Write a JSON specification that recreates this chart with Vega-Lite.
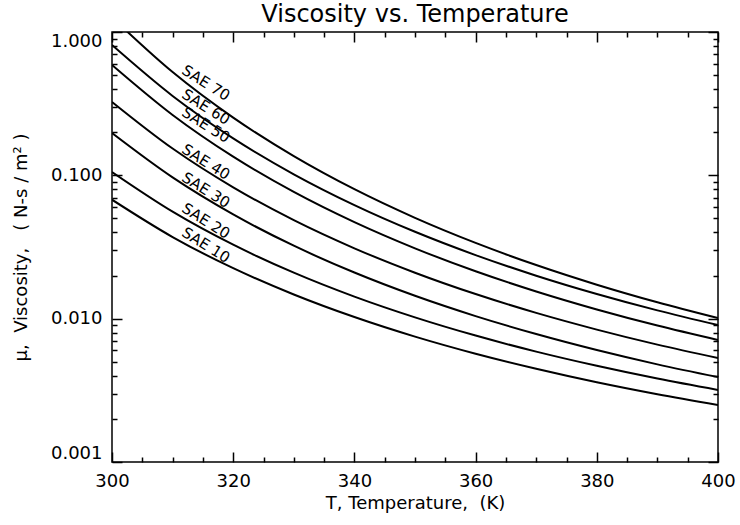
{
  "$schema": "https://vega.github.io/schema/vega-lite/v6.json",
  "autosize": {"type": "none"},
  "width": 606,
  "height": 430,
  "padding": {"left": 112, "top": 32, "right": 22, "bottom": 63},
  "background": "white",
  "title": {"text": "Viscosity vs. Temperature", "fontSize": 24, "fontWeight": "normal", "font": "DejaVu Sans", "anchor": "middle", "frame": "group", "offset": 7, "dy": 17, "color": "black"},
  "config": {
    "view": {"stroke": "black", "strokeWidth": 1.5},
    "font": "DejaVu Sans",
    "axis": {"grid": false, "domain": false, "labelColor": "black", "titleColor": "black", "tickColor": "black"}
  },
  "datasets": {
    "curves": [
      {"oil": "SAE 70", "T": 300, "mu": 1.2647},
      {"oil": "SAE 70", "T": 310, "mu": 0.5253},
      {"oil": "SAE 70", "T": 320, "mu": 0.2527},
      {"oil": "SAE 70", "T": 330, "mu": 0.1361},
      {"oil": "SAE 70", "T": 340, "mu": 0.0800},
      {"oil": "SAE 70", "T": 350, "mu": 0.0505},
      {"oil": "SAE 70", "T": 360, "mu": 0.03377},
      {"oil": "SAE 70", "T": 370, "mu": 0.02367},
      {"oil": "SAE 70", "T": 380, "mu": 0.01726},
      {"oil": "SAE 70", "T": 390, "mu": 0.01301},
      {"oil": "SAE 70", "T": 400, "mu": 0.01009},
      {"oil": "SAE 60", "T": 300, "mu": 0.811},
      {"oil": "SAE 60", "T": 310, "mu": 0.3579},
      {"oil": "SAE 60", "T": 320, "mu": 0.181},
      {"oil": "SAE 60", "T": 330, "mu": 0.1017},
      {"oil": "SAE 60", "T": 340, "mu": 0.062},
      {"oil": "SAE 60", "T": 350, "mu": 0.04039},
      {"oil": "SAE 60", "T": 360, "mu": 0.02777},
      {"oil": "SAE 60", "T": 370, "mu": 0.01994},
      {"oil": "SAE 60", "T": 380, "mu": 0.01486},
      {"oil": "SAE 60", "T": 390, "mu": 0.01142},
      {"oil": "SAE 60", "T": 400, "mu": 0.00902},
      {"oil": "SAE 50", "T": 300, "mu": 0.5888},
      {"oil": "SAE 50", "T": 310, "mu": 0.2637},
      {"oil": "SAE 50", "T": 320, "mu": 0.135},
      {"oil": "SAE 50", "T": 330, "mu": 0.0766},
      {"oil": "SAE 50", "T": 340, "mu": 0.04714},
      {"oil": "SAE 50", "T": 350, "mu": 0.03095},
      {"oil": "SAE 50", "T": 360, "mu": 0.02141},
      {"oil": "SAE 50", "T": 370, "mu": 0.01547},
      {"oil": "SAE 50", "T": 380, "mu": 0.01159},
      {"oil": "SAE 50", "T": 390, "mu": 0.00895},
      {"oil": "SAE 50", "T": 400, "mu": 0.0071},
      {"oil": "SAE 40", "T": 300, "mu": 0.3251},
      {"oil": "SAE 40", "T": 310, "mu": 0.1538},
      {"oil": "SAE 40", "T": 320, "mu": 0.08247},
      {"oil": "SAE 40", "T": 330, "mu": 0.04866},
      {"oil": "SAE 40", "T": 340, "mu": 0.03096},
      {"oil": "SAE 40", "T": 350, "mu": 0.02093},
      {"oil": "SAE 40", "T": 360, "mu": 0.01485},
      {"oil": "SAE 40", "T": 370, "mu": 0.01097},
      {"oil": "SAE 40", "T": 380, "mu": 0.00839},
      {"oil": "SAE 40", "T": 390, "mu": 0.00659},
      {"oil": "SAE 40", "T": 400, "mu": 0.00531},
      {"oil": "SAE 30", "T": 300, "mu": 0.1972},
      {"oil": "SAE 30", "T": 310, "mu": 0.0967},
      {"oil": "SAE 30", "T": 320, "mu": 0.05337},
      {"oil": "SAE 30", "T": 330, "mu": 0.03228},
      {"oil": "SAE 30", "T": 340, "mu": 0.02098},
      {"oil": "SAE 30", "T": 350, "mu": 0.01444},
      {"oil": "SAE 30", "T": 360, "mu": 0.01042},
      {"oil": "SAE 30", "T": 370, "mu": 0.00781},
      {"oil": "SAE 30", "T": 380, "mu": 0.00604},
      {"oil": "SAE 30", "T": 390, "mu": 0.0048},
      {"oil": "SAE 30", "T": 400, "mu": 0.00391},
      {"oil": "SAE 20", "T": 300, "mu": 0.1054},
      {"oil": "SAE 20", "T": 310, "mu": 0.05578},
      {"oil": "SAE 20", "T": 320, "mu": 0.03281},
      {"oil": "SAE 20", "T": 330, "mu": 0.02094},
      {"oil": "SAE 20", "T": 340, "mu": 0.01425},
      {"oil": "SAE 20", "T": 350, "mu": 0.01021},
      {"oil": "SAE 20", "T": 360, "mu": 0.00762},
      {"oil": "SAE 20", "T": 370, "mu": 0.00589},
      {"oil": "SAE 20", "T": 380, "mu": 0.00469},
      {"oil": "SAE 20", "T": 390, "mu": 0.00382},
      {"oil": "SAE 20", "T": 400, "mu": 0.00318},
      {"oil": "SAE 10", "T": 300, "mu": 0.06761},
      {"oil": "SAE 10", "T": 310, "mu": 0.03711},
      {"oil": "SAE 10", "T": 320, "mu": 0.0225},
      {"oil": "SAE 10", "T": 330, "mu": 0.01474},
      {"oil": "SAE 10", "T": 340, "mu": 0.01026},
      {"oil": "SAE 10", "T": 350, "mu": 0.00749},
      {"oil": "SAE 10", "T": 360, "mu": 0.00569},
      {"oil": "SAE 10", "T": 370, "mu": 0.00447},
      {"oil": "SAE 10", "T": 380, "mu": 0.0036},
      {"oil": "SAE 10", "T": 390, "mu": 0.00297},
      {"oil": "SAE 10", "T": 400, "mu": 0.0025}
    ],
    "labels": [
      {"label": "SAE 70", "T": 315.5, "mu": 0.441},
      {"label": "SAE 60", "T": 315.5, "mu": 0.300},
      {"label": "SAE 50", "T": 315.5, "mu": 0.2244},
      {"label": "SAE 40", "T": 315.5, "mu": 0.1239},
      {"label": "SAE 30", "T": 315.5, "mu": 0.0789},
      {"label": "SAE 20", "T": 315.5, "mu": 0.048},
      {"label": "SAE 10", "T": 315.5, "mu": 0.0326}
    ]
  },
  "resolve": {"axis": {"x": "independent", "y": "independent"}},
  "layer": [
    {
      "data": {"name": "curves"},
      "mark": {"type": "line", "clip": true, "interpolate": "monotone", "color": "black", "strokeWidth": 2},
      "encoding": {
        "x": {"field": "T", "type": "quantitative", "scale": {"domain": [300, 400], "nice": false, "zero": false},
          "axis": {"orient": "bottom", "values": [300, 320, 340, 360, 380, 400], "format": "d", "ticks": false, "labelFontSize": 18, "labelPadding": 10, "labelFlush": false, "labelOverlap": false, "title": "T,\u00a0Temperature,\u00a0\u00a0(K)", "titleFontSize": 18, "titleFontWeight": "normal", "titlePadding": 4}},
        "y": {"field": "mu", "type": "quantitative", "scale": {"type": "log", "domain": [0.001, 1], "nice": false},
          "axis": {"orient": "left", "values": [0.001, 0.01, 0.1, 1], "format": ".3f", "ticks": false, "labelFontSize": 18, "labelPadding": 10, "labelFlush": true, "labelOverlap": false, "title": "μ,\u00a0\u00a0Viscosity,\u00a0\u00a0\u00a0(\u00a0N-s\u00a0/\u00a0m²\u00a0)", "titleFontSize": 18, "titleFontWeight": "normal", "titlePadding": 20}},
        "detail": {"field": "oil"}
      }
    },
    {
      "data": {"name": "curves"},
      "mark": {"type": "line", "strokeOpacity": 0},
      "encoding": {
        "x": {"field": "T", "type": "quantitative", "axis": {"orient": "bottom", "values": [300, 320, 340, 360, 380, 400], "labels": false, "tickSize": -10, "tickWidth": 1.5, "title": null}},
        "y": {"field": "mu", "type": "quantitative", "axis": {"orient": "left", "values": [0.001, 0.01, 0.1, 1], "labels": false, "tickSize": -10, "tickWidth": 1.5, "title": null}},
        "detail": {"field": "oil"}
      }
    },
    {
      "data": {"name": "curves"},
      "mark": {"type": "line", "strokeOpacity": 0},
      "encoding": {
        "x": {"field": "T", "type": "quantitative", "axis": {"orient": "bottom", "values": [305, 310, 315, 325, 330, 335, 345, 350, 355, 365, 370, 375, 385, 390, 395], "labels": false, "tickSize": -5, "tickWidth": 1.5, "title": null}},
        "y": {"field": "mu", "type": "quantitative", "axis": {"orient": "left", "values": [0.002, 0.003, 0.004, 0.005, 0.006, 0.007, 0.008, 0.009, 0.02, 0.03, 0.04, 0.05, 0.06, 0.07, 0.08, 0.09, 0.2, 0.3, 0.4, 0.5, 0.6, 0.7, 0.8, 0.9], "labels": false, "tickSize": -5, "tickWidth": 1.5, "title": null}},
        "detail": {"field": "oil"}
      }
    },
    {
      "data": {"name": "curves"},
      "mark": {"type": "line", "strokeOpacity": 0},
      "encoding": {
        "x": {"field": "T", "type": "quantitative", "axis": {"orient": "top", "values": [300, 320, 340, 360, 380, 400], "labels": false, "tickSize": -10, "tickWidth": 1.5, "title": null}},
        "y": {"field": "mu", "type": "quantitative", "axis": {"orient": "right", "values": [0.001, 0.01, 0.1, 1], "labels": false, "tickSize": -10, "tickWidth": 1.5, "title": null}},
        "detail": {"field": "oil"}
      }
    },
    {
      "data": {"name": "curves"},
      "mark": {"type": "line", "strokeOpacity": 0},
      "encoding": {
        "x": {"field": "T", "type": "quantitative", "axis": {"orient": "top", "values": [305, 310, 315, 325, 330, 335, 345, 350, 355, 365, 370, 375, 385, 390, 395], "labels": false, "tickSize": -5, "tickWidth": 1.5, "title": null}},
        "y": {"field": "mu", "type": "quantitative", "axis": {"orient": "right", "values": [0.002, 0.003, 0.004, 0.005, 0.006, 0.007, 0.008, 0.009, 0.02, 0.03, 0.04, 0.05, 0.06, 0.07, 0.08, 0.09, 0.2, 0.3, 0.4, 0.5, 0.6, 0.7, 0.8, 0.9], "labels": false, "tickSize": -5, "tickWidth": 1.5, "title": null}},
        "detail": {"field": "oil"}
      }
    },
    {
      "data": {"name": "labels"},
      "mark": {"type": "text", "angle": 32, "fontSize": 15, "align": "center", "baseline": "middle", "color": "black"},
      "encoding": {
        "x": {"field": "T", "type": "quantitative", "axis": null},
        "y": {"field": "mu", "type": "quantitative", "axis": null},
        "text": {"field": "label"}
      }
    }
  ]
}
